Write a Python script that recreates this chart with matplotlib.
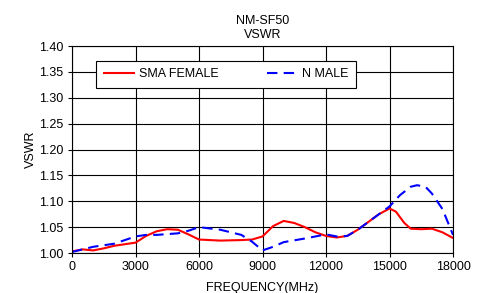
import numpy as np
import matplotlib
matplotlib.use('Agg')
import matplotlib.pyplot as plt
import matplotlib as mpl

mpl.rc('font', family='Liberation Sans')
mpl.rcParams.update({'font.size': 9})

# SMA FEMALE (red, solid)
red_f = [0, 500, 1000, 1500, 2000, 2500, 3000, 3500, 4000, 4500, 5000, 5500, 6000,
         7000, 8000, 8500, 9000, 9500, 10000, 10500, 11000, 11500, 12000, 12500,
         13000, 13500, 14000, 14500, 15000, 15300, 15700, 16000, 16500, 17000,
         17500, 18000]
red_v = [1.003, 1.007, 1.005, 1.009, 1.014, 1.017, 1.020, 1.033, 1.042, 1.046,
         1.045, 1.036, 1.026, 1.024, 1.025, 1.026, 1.032, 1.052, 1.062, 1.058,
         1.050, 1.040, 1.033, 1.030, 1.033, 1.045, 1.060, 1.075, 1.086, 1.080,
         1.058, 1.047, 1.046, 1.047, 1.040, 1.029]

# N MALE (blue, dashed)
blue_f = [0, 1000, 2000, 3000, 3500, 4000, 5000, 5500, 6000, 7000, 8000, 8500,
          9000, 9500, 10000, 11000, 12000, 12500, 13000, 13500, 14000, 14500,
          15000, 15500, 16000, 16300, 16700, 17000, 17500, 18000]
blue_v = [1.002, 1.012, 1.018, 1.032, 1.035, 1.035, 1.038, 1.043, 1.050, 1.045,
          1.035, 1.022, 1.005, 1.012, 1.021, 1.028, 1.036, 1.032, 1.033, 1.045,
          1.060, 1.075, 1.090, 1.112, 1.128, 1.131, 1.128, 1.115, 1.085, 1.035]

fig = plt.figure(figsize=(4.84, 2.93), dpi=100)
ax = fig.add_axes([0.1488, 0.1365, 0.7872, 0.7065])

ax.plot(red_f, red_v, color='#ff0000', linewidth=1.5, label='SMA FEMALE')
ax.plot(blue_f, blue_v, color='#0000ff', linewidth=1.5, linestyle=(0, (5, 3)),
        label='N MALE')

ax.set_xlim(0, 18000)
ax.set_ylim(1.0, 1.4)
ax.set_xticks(np.arange(0, 18001, 3000))
ax.set_yticks(np.arange(1.0, 1.401, 0.05))
ax.set_yticklabels(['%.2f' % v for v in np.arange(1.0, 1.401, 0.05)])
ax.grid(True, color='black', linewidth=0.8)
ax.tick_params(direction='out', length=3, width=0.8, pad=3)
for s in ax.spines.values():
    s.set_linewidth(0.8)
    s.set_color('black')

ax.set_title('NM-SF50\nVSWR', fontsize=9, pad=6, linespacing=1.15)
ax.set_xlabel('FREQUENCY(MHz)', labelpad=6)
ax.set_ylabel('VSWR', labelpad=2)

leg = ax.legend(ncol=2, loc='upper left', bbox_to_anchor=(0.063, 0.928),
                frameon=True, fancybox=False, edgecolor='black', framealpha=1,
                handlelength=2.4, handletextpad=0.4, columnspacing=3.9,
                borderpad=0.6, borderaxespad=0)
leg.get_frame().set_linewidth(0.8)

fig.savefig('out.png', dpi=100)
